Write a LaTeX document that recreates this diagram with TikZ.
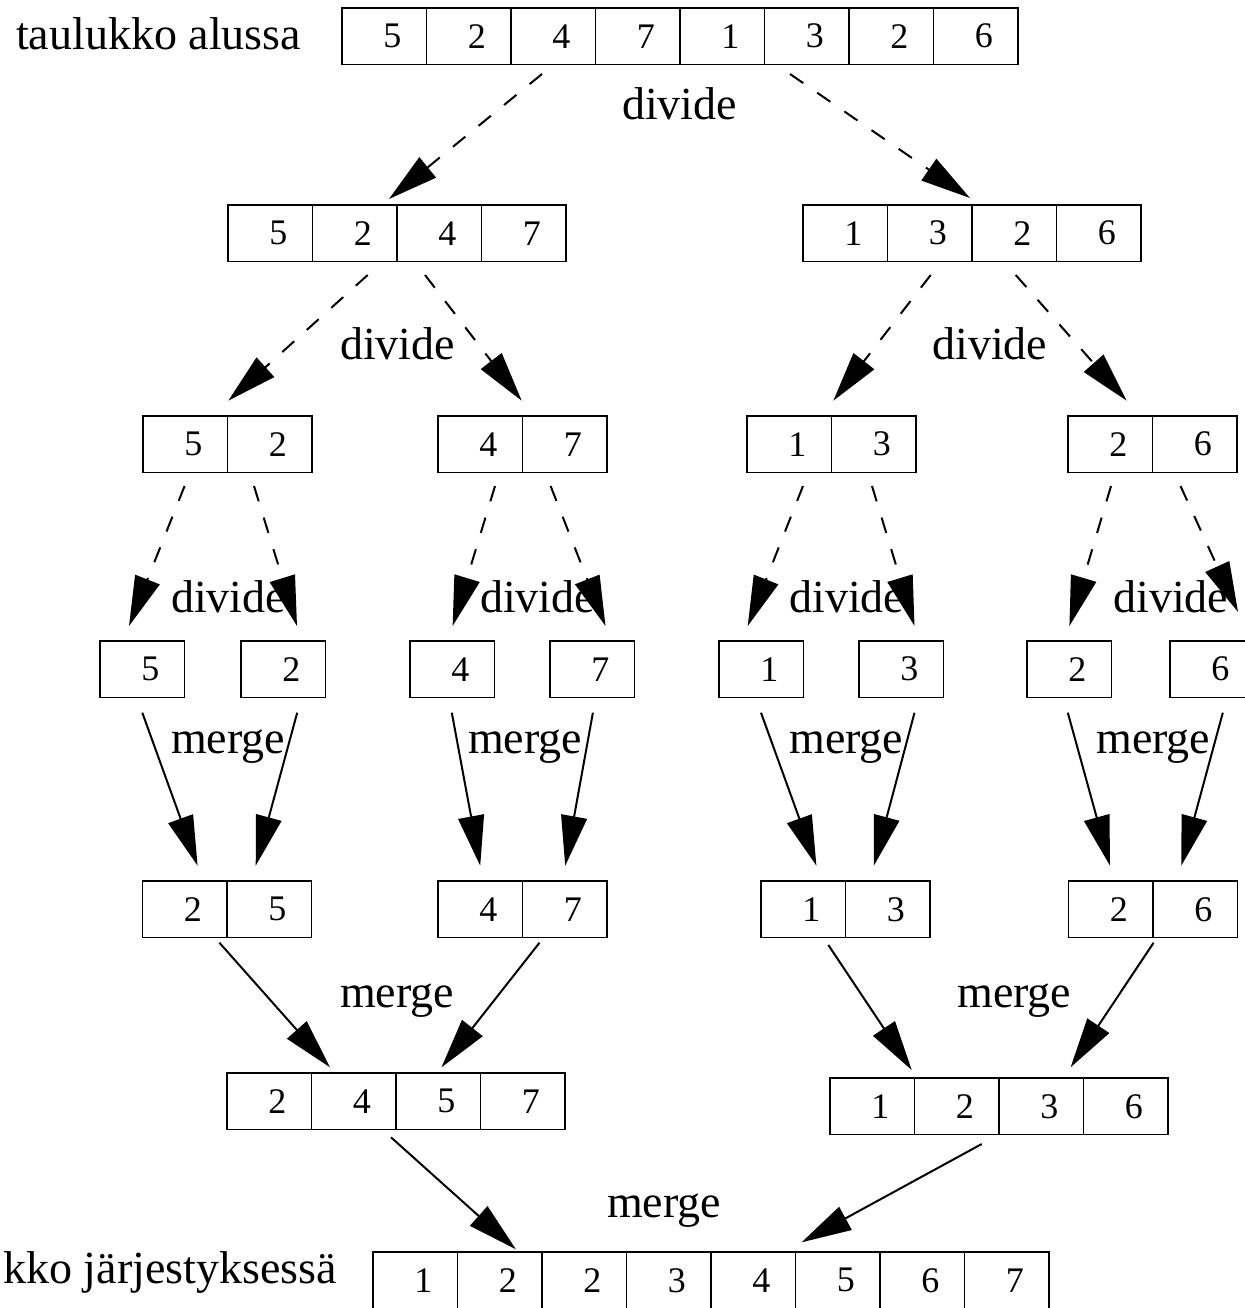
\documentclass[tikz,border=0pt]{standalone}
\usepackage{fontspec}
\setmainfont{Liberation Serif}
\usetikzlibrary{arrows.meta}
\tikzset{
  cellbox/.style={draw, line width=1.4pt, rectangle, minimum width=84.5pt, minimum height=56.5pt, inner sep=0pt, font=\fontsize{36}{40}\selectfont},
  lbl/.style={anchor=base west, inner sep=0pt, font=\fontsize{46}{52}\selectfont},
  lblr/.style={lbl, anchor=base east},
  conn/.style={line width=2pt, -{Triangle[length=50pt,width=26pt]}},
  divconn/.style={conn, dash pattern=on 16pt off 17pt},
}
\newcommand{\mkarray}[4]{%
  \foreach \dd [count=\ii] in {#4} {
    \node[cellbox] (#1-\ii) at ({#2+(\ii-0.5)*84.5}, {#3+28.25}) {\hspace*{16pt}\dd};
  }%
}
\begin{document}
\begin{tikzpicture}[x=1pt,y=-1pt]
\fill[white] (0,0) rectangle (1244,1308);
\useasboundingbox (0,0) rectangle (1244,1308);

% arrays
\mkarray{top}{342}{8}{5,2,4,7,1,3,2,6}
\mkarray{la}{228}{205}{5,2,4,7}
\mkarray{ra}{803}{205}{1,3,2,6}
\mkarray{lla}{143}{416}{5,2}
\mkarray{lra}{438}{416}{4,7}
\mkarray{rla}{747}{416}{1,3}
\mkarray{rra}{1068}{416}{2,6}
\mkarray{s1}{100}{641}{5}
\mkarray{s2}{241}{641}{2}
\mkarray{s3}{410}{641}{4}
\mkarray{s4}{550}{641}{7}
\mkarray{s5}{719}{641}{1}
\mkarray{s6}{859}{641}{3}
\mkarray{s7}{1027}{641}{2}
\mkarray{s8}{1170}{641}{6}
\mkarray{m1}{142.5}{881}{2,5}
\mkarray{m2}{438}{881}{4,7}
\mkarray{m3}{761}{881}{1,3}
\mkarray{m4}{1068.5}{881}{2,6}
\mkarray{ml}{227}{1073}{2,4,5,7}
\mkarray{mr}{830}{1078}{1,2,3,6}
\mkarray{fin}{373}{1252}{1,2,2,3,4,5,6,7}

% labels
\node[lbl] (t0) at (16,50) {taulukko alussa};
\node[lblr] (t1) at (337,1283) {kko järjestyksessä};
\node[lbl] (dv0) at (622,120) {divide};
\node[lbl] (dv1) at (340,359) {divide};
\node[lbl] (dv2) at (932,359) {divide};
\node[lbl] (dv3) at (171,612) {divide};
\node[lbl] (dv4) at (480,612) {divide};
\node[lbl] (dv5) at (789,612) {divide};
\node[lbl] (dv6) at (1113,612) {divide};
\node[lbl] (mg1) at (171,753) {merge};
\node[lbl] (mg2) at (468,753) {merge};
\node[lbl] (mg3) at (789,753) {merge};
\node[lbl] (mg4) at (1096,753) {merge};
\node[lbl] (mg5) at (340,1007) {merge};
\node[lbl] (mg6) at (957,1007) {merge};
\node[lbl] (mg7) at (607,1217) {merge};

% connector end points
\coordinate (a1s) at (542,74);     \coordinate (a1e) at (389,199);
\coordinate (a2s) at (790,74);     \coordinate (a2e) at (970,198);
\coordinate (b1s) at (367.7,275);  \coordinate (b1e) at (228.3,400.7);
\coordinate (b2s) at (425,275);    \coordinate (b2e) at (521.7,400.7);
\coordinate (b3s) at (930.7,275);  \coordinate (b3e) at (833.3,400.7);
\coordinate (b4s) at (1015.7,275); \coordinate (b4e) at (1126.7,400.7);
\coordinate (c1s) at (184.6,486);  \coordinate (c1e) at (129,626);
\coordinate (c2s) at (254,486);    \coordinate (c2e) at (297,626);
\coordinate (c3s) at (495,486);    \coordinate (c3e) at (452.6,626);
\coordinate (c4s) at (550.6,486);  \coordinate (c4e) at (605.5,626);
\coordinate (c5s) at (803,486);    \coordinate (c5e) at (747.7,626);
\coordinate (c6s) at (872,486);    \coordinate (c6e) at (914.5,626);
\coordinate (c7s) at (1111,486);   \coordinate (c7e) at (1069.4,626);
\coordinate (c8s) at (1180.5,486); \coordinate (c8e) at (1238,612);
\coordinate (e1s) at (142.3,712.7); \coordinate (e1e) at (197.6,865.7);
\coordinate (e2s) at (297.2,712.7); \coordinate (e2e) at (255.7,865.7);
\coordinate (e3s) at (451.8,712.7); \coordinate (e3e) at (480.2,865.7);
\coordinate (e4s) at (592.9,712.7); \coordinate (e4e) at (565.2,865.7);
\coordinate (e5s) at (761,712.7);   \coordinate (e5e) at (816.4,865.7);
\coordinate (e6s) at (914.5,712.7); \coordinate (e6e) at (873.8,865.7);
\coordinate (e7s) at (1067.8,712.7); \coordinate (e7e) at (1110,865.7);
\coordinate (e8s) at (1222.8,712.7); \coordinate (e8e) at (1181.3,865.7);
\coordinate (f1s) at (219.4,942.7); \coordinate (f1e) at (330,1067.3);
\coordinate (f2s) at (539.5,942.7); \coordinate (f2e) at (441.5,1067.3);
\coordinate (f3s) at (828.3,945);   \coordinate (f3e) at (911.7,1070);
\coordinate (f4s) at (1153.6,942.7); \coordinate (f4e) at (1070.6,1067.3);
\coordinate (g1s) at (391,1137.3);  \coordinate (g1e) at (515.9,1249.3);
\coordinate (g2s) at (981.7,1144);  \coordinate (g2e) at (801.6,1242.3);

% divide connectors
\foreach \n in {a1,a2,b1,b2,b3,b4,c1,c2,c3,c4,c5,c6,c7,c8}
  \draw[divconn] (\n s) -- (\n e);
% merge connectors
\foreach \n in {e1,e2,e3,e4,e5,e6,e7,e8,f1,f2,f3,f4,g1,g2}
  \draw[conn] (\n s) -- (\n e);
\end{tikzpicture}
\end{document}
